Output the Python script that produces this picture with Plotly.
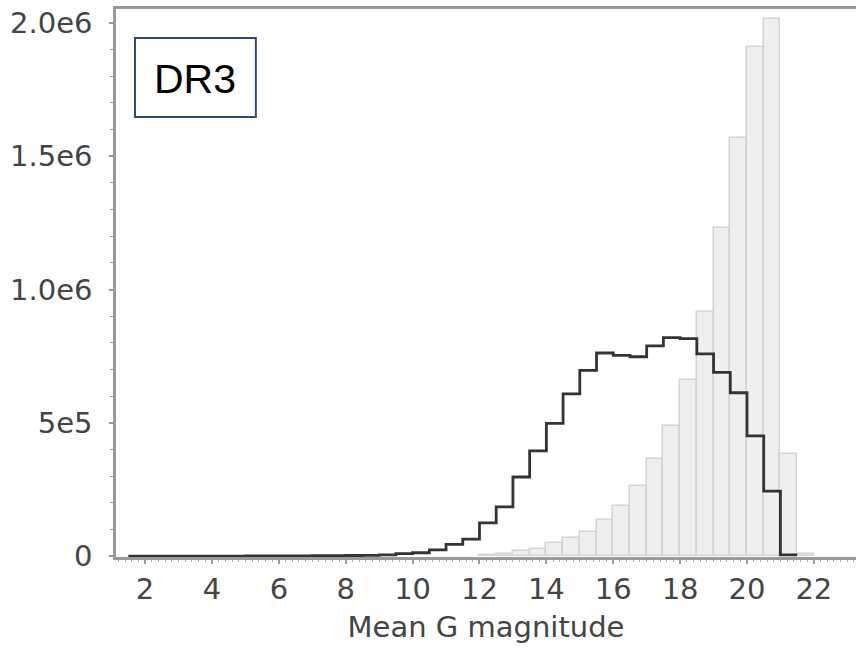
import plotly.graph_objects as go

# ---- data ----
bin_width = 0.5
# black step histogram, bins starting at 1.5
black_start = 1.5
black_counts = [100, 150, 200, 300, 400, 500, 600, 700, 900, 1100, 1400, 1800, 2300, 2600,
                3000, 5000, 10000, 13000, 24000, 44000, 64000, 125000, 185000, 297000,
                395000, 498000, 609000, 697000, 762000, 753000, 748000, 789000, 820000,
                816000, 759000, 689000, 613000, 451000, 244000, 5000]
# grey bar histogram, bins starting at 12.0
grey_start = 12.0
grey_counts = [4000, 10000, 19000, 27000, 49000, 68000, 91000, 135000, 190000, 263000,
               365000, 489000, 662000, 914000, 1230000, 1570000, 1910000, 2015000,
               385000, 9000]

y_tickvals = [0, 5e5, 1e6, 1.5e6, 2e6]
y_ticktext = ["0", "5e5", "1.0e6", "1.5e6", "2.0e6"]
x_tickvals = [2, 4, 6, 8, 10, 12, 14, 16, 18, 20, 22]
x_title = "Mean G magnitude"
label_text = "DR3"

# ---- derived ----
grey_x = [grey_start + bin_width * (i + 0.5) for i in range(len(grey_counts))]
black_edges = [black_start + bin_width * i for i in range(len(black_counts) + 1)]
black_y = black_counts + [black_counts[-1]]

fig = go.Figure()
fig.add_trace(go.Bar(
    x=grey_x, y=grey_counts, width=bin_width,
    marker=dict(color="#efefef", line=dict(color="#d4d4d4", width=1.5)),
    showlegend=False, hoverinfo="skip"))
fig.add_trace(go.Scatter(
    x=black_edges, y=black_y, mode="lines", line_shape="hv",
    line=dict(color="#333333", width=2.8), showlegend=False))

axis_color = "#999999"
font_family = "DejaVu Sans"
fig.update_layout(
    width=856, height=653,
    margin=dict(l=116, r=0, t=9, b=96),
    paper_bgcolor="white", plot_bgcolor="white",
    bargap=0,
    font=dict(family=font_family, color="#444444", size=29),
    xaxis=dict(
        range=[1.13, 23.26], tickvals=x_tickvals, showgrid=False, zeroline=False,
        showline=True, linecolor=axis_color, linewidth=2.5, mirror=True,
        ticks="outside", ticklen=4, tickcolor=axis_color, tickwidth=1.5,
        minor=dict(dtick=0.2, ticks="outside", ticklen=2, tickcolor="#aaaaaa", tickwidth=1),
        tickfont=dict(size=29, color="#444444"),
        title=dict(text=x_title, font=dict(size=29, color="#444444"), standoff=13),
    ),
    yaxis=dict(
        range=[-3000, 2.052e6], tickvals=y_tickvals, ticktext=y_ticktext,
        showgrid=False, zeroline=False,
        showline=True, linecolor=axis_color, linewidth=2.5,
        ticks="outside", ticklen=4, tickcolor=axis_color, tickwidth=1.5,
        minor=dict(dtick=1e5, ticks="outside", ticklen=3, tickcolor="#999999", tickwidth=1),
        tickfont=dict(size=29, color="#444444"),
        ticklabelstandoff=11,
    ),
)

fig.add_shape(type="rect", xref="paper", yref="paper",
              x0=0.0257, x1=0.189, y0=0.803, y1=0.947,
              line=dict(color="#2f4a7a", width=2), fillcolor="white", layer="above")
fig.add_annotation(xref="paper", yref="paper", x=0.107, y=0.872, text=label_text,
                   showarrow=False, xanchor="center", yanchor="middle",
                   font=dict(family="Liberation Sans", size=41, color="#000000"))

fig.write_html("out.html")
